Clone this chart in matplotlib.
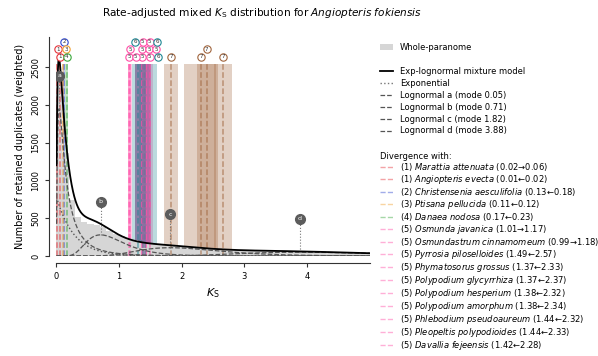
import numpy as np
import matplotlib.pyplot as plt
from matplotlib.patches import Patch
from matplotlib.lines import Line2D

# ------------------------------
#  Whole-paranome Ks histogram (weighted counts, bin width 0.1)
# ------------------------------
bin_width = 0.1
paranome_counts = [2250, 1370, 740, 520, 445, 425, 410, 380, 330, 290,
                   262, 232, 210, 190, 172, 160, 150, 142, 136, 130,
                   124, 118, 112, 106, 100, 95, 92, 88, 85, 82,
                   80, 78, 76, 74, 72, 70, 68, 66, 63, 61,
                   59, 57, 55, 53, 50, 48, 46, 44, 42, 40]

# ------------------------------
#  Exp-lognormal mixture model
# ------------------------------
exp_amplitude = 800
exp_rate = 3.6

lognormal_names = ["a", "b", "c", "d"]
lognormal_modes = [0.05, 0.71, 1.82, 3.88]
lognormal_sigmas = [1.05, 0.42, 0.35, 0.30]
lognormal_peaks = [1950, 280, 110, 50]

# ------------------------------
#  Rate-adjusted divergences
# ------------------------------
div_nodes = [1, 1, 2, 3, 4, 5, 5, 5, 5, 5, 5, 5, 5, 5, 5]
div_species = ["Marattia attenuata", "Angiopteris evecta",
               "Christensenia aesculifolia", "Ptisana pellucida",
               "Danaea nodosa", "Osmunda javanica",
               "Osmundastrum cinnamomeum", "Pyrrosia piloselloides",
               "Phymatosorus grossus", "Polypodium glycyrrhiza",
               "Polypodium hesperium", "Polypodium amorphum",
               "Phlebodium pseudoaureum", "Pleopeltis polypodioides",
               "Davallia fejeensis"]
div_original = [0.02, 0.02, 0.18, 0.12, 0.23, 1.01, 0.99, 2.57, 2.33, 2.37,
                2.32, 2.34, 2.32, 2.33, 2.28]
div_adjusted = [0.06, 0.01, 0.13, 0.11, 0.17, 1.17, 1.18, 1.49, 1.37, 1.37,
                1.38, 1.38, 1.44, 1.44, 1.42]
div_sd = [0.01, 0.01, 0.015, 0.015, 0.02, 0.03, 0.03, 0.05, 0.12, 0.12,
          0.12, 0.12, 0.08, 0.08, 0.1]

# further nodes (no legend rows in view)
extra_nodes = [6, 6, 6, 7, 7, 7, 7]
extra_adjusted = [1.31, 1.38, 1.41, 1.83, 2.31, 2.40, 2.66]
extra_sd = [0.06, 0.06, 0.20, 0.115, 0.27, 0.15, 0.15]

node_colors = {1: "#e6333a", 2: "#3048d0", 3: "#f0a030", 4: "#39a83c",
               5: "#ff4fa8", 6: "#1e8794", 7: "#a0643c"}

plt.rcParams["font.family"] = "DejaVu Sans"
plt.rcParams["mathtext.fontset"] = "dejavusans"

fig = plt.figure(figsize=(5.98, 3.56), dpi=100)
ax = fig.add_axes([56 / 598, 100 / 356, 314 / 598, 219 / 356])

ks = np.linspace(0.008, 5, 1500)
y_top = 2900
band_top = 2540

# divergence bands and lines
all_nodes = div_nodes + extra_nodes
all_adj = div_adjusted + extra_adjusted
all_sd = div_sd + extra_sd
for node, k, sd in zip(all_nodes, all_adj, all_sd):
    c = node_colors[node]
    ax.axvspan(k - sd, k + sd, ymin=0, ymax=band_top / y_top, color=c,
               alpha=0.3, lw=0, zorder=1)
    ax.plot([k, k], [0, band_top], color=c, ls="--", lw=1.1, alpha=0.6,
            zorder=3)

# histogram
bin_left = np.arange(len(paranome_counts)) * bin_width
ax.bar(bin_left, paranome_counts, width=bin_width, align="edge",
       color="#d6d6d6", lw=0, zorder=2)

# mixture components
exp_curve = exp_amplitude * np.exp(-exp_rate * ks)
total = exp_curve.copy()
ax.plot(ks, exp_curve, color="#555555", ls=":", lw=1, zorder=4)
for name, m, s, h in zip(lognormal_names, lognormal_modes, lognormal_sigmas,
                         lognormal_peaks):
    # lognormal scaled so that its mode reaches h
    comp = h * np.exp(-np.log(ks / m) ** 2 / (2 * s ** 2))
    total += comp
    ax.plot(ks, comp, color="#555555", ls="--", lw=0.9, zorder=4)
    ax.plot([m, m], [h, h + 440], color="#777777", ls=":", lw=0.8, zorder=4)
    ax.plot(m, h + 440, "o", ms=7, mfc="#5c5c5c", mec="#5c5c5c", zorder=7)
    ax.text(m, h + 440, name, color="white", fontsize=4.5, ha="center",
            va="center", zorder=8)
ax.plot(ks, total, color="black", lw=1.3, zorder=5)

# node labels above the bands, nudged so they don't sit on each other
rows = [2640, 2740, 2840]
shifts = [0, 0.05, -0.05, 0.1, -0.1, 0.15, -0.15, 0.2, -0.2, 0.25, 0.3]
placed = []
for node, k in zip(all_nodes, all_adj):
    spot = (k, rows[-1])
    found = False
    for dx in shifts:
        for r in rows:
            x = max(k + dx, 0.03)
            if all(abs(x - px) > 0.1 for px, pr in placed if pr == r):
                spot = (x, r)
                found = True
                break
        if found:
            break
    placed.append(spot)
    ax.plot(*spot, "o", ms=5.3, mfc="white", mec=node_colors[node], mew=0.8,
            zorder=9, clip_on=False)
    ax.text(*spot, str(node), fontsize=4, ha="center", va="center",
            color="#333333", zorder=10, clip_on=False)

ax.set_xlim(0, 5)
ax.set_ylim(0, y_top)
ax.set_xticks([0, 1, 2, 3, 4])
ax.set_yticks([0, 500, 1000, 1500, 2000, 2500])
for side in ["top", "right"]:
    ax.spines[side].set_visible(False)
for side in ["left", "bottom"]:
    ax.spines[side].set_position(("outward", 5))
    ax.spines[side].set_color("#333333")
ax.spines["bottom"].set_bounds(0, 5)
ax.tick_params(labelsize=6, length=3, color="#333333")
for lab in ax.get_yticklabels():
    lab.set_rotation(90)
    lab.set_va("center")
ax.set_xlabel(r"$K_\mathrm{S}$", fontsize=8)
ax.set_ylabel("Number of retained duplicates (weighted)", fontsize=7)

fig.text(262 / 598, 1 - 13 / 356,
         r"Rate-adjusted mixed $K_\mathrm{S}$ distribution for "
         r"$\mathit{Angiopteris\ fokiensis}$",
         ha="center", va="center", fontsize=7.6)

# legends
model_handles = [Patch(facecolor="#d6d6d6", edgecolor="none"),
                 Line2D([], [], color="none"),
                 Line2D([], [], color="black", lw=1.3),
                 Line2D([], [], color="#777777", ls=":", lw=1)]
model_labels = ["Whole-paranome", "", "Exp-lognormal mixture model",
                "Exponential"]
for name, m in zip(lognormal_names, lognormal_modes):
    model_handles.append(Line2D([], [], color="#555555", ls="--", lw=0.9))
    model_labels.append(f"Lognormal {name} (mode {m:.2f})")
leg1 = fig.legend(model_handles, model_labels, loc="upper left",
                  bbox_to_anchor=(380 / 598, 1 - 43 / 356), frameon=False,
                  fontsize=6, borderpad=0, borderaxespad=0, handlelength=1.6,
                  handletextpad=0.8, labelspacing=0.35)

div_handles = []
div_labels = []
for node, sp, o, a in zip(div_nodes, div_species, div_original, div_adjusted):
    div_handles.append(Line2D([], [], color=node_colors[node], ls="--",
                              lw=1, alpha=0.45))
    name = sp.replace(" ", r"\ ")
    if a > o:
        vals = f"({o:.2f}→{a:.2f})"
    else:
        vals = f"({a:.2f}←{o:.2f})"
    div_labels.append(f"({node}) $\\mathit{{{name}}}$ {vals}")
leg2 = fig.legend(div_handles, div_labels, loc="upper left",
                  bbox_to_anchor=(380 / 598, 1 - 152 / 356), frameon=False,
                  fontsize=6, borderpad=0, borderaxespad=0, handlelength=1.6,
                  handletextpad=0.8, labelspacing=0.0,
                  title="Divergence with:", title_fontsize=6,
                  alignment="left")

fig.savefig("out.png", dpi=100)
